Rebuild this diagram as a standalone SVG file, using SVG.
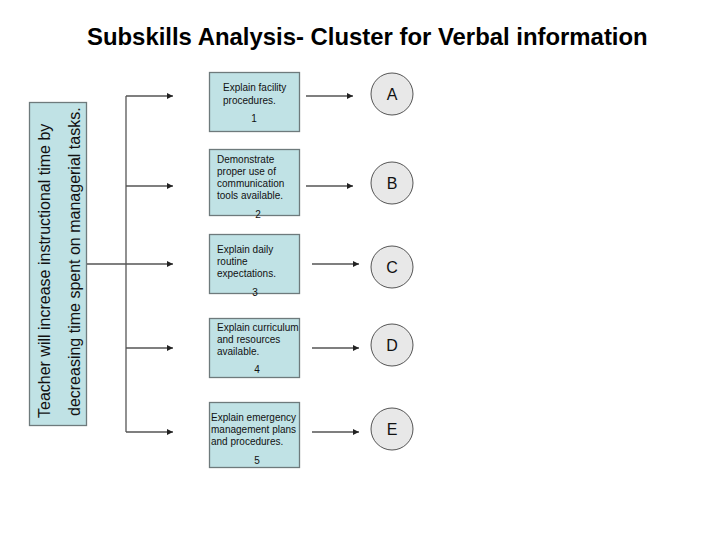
<svg xmlns="http://www.w3.org/2000/svg" width="720" height="540" viewBox="0 0 720 540">
<style>
  .box { fill: #c0e2e5; stroke: #6e7a7c; stroke-width: 1.3; }
  .circ { fill: #e8e8e8; stroke: #555; stroke-width: 1; }
  .t { font-family: "Liberation Sans", Arial, sans-serif; font-size: 10px; fill: #111; }
  .big { font-family: "Liberation Sans", Arial, sans-serif; font-size: 16px; fill: #111; }
  .title { font-family: "Liberation Sans", Arial, sans-serif; font-size: 23.9px; font-weight: bold; fill: #000; }
  .ln { stroke: #555; stroke-width: 1.3; fill: none; }
</style>
<defs>
  <marker id="ah" viewBox="0 0 8 8" refX="8" refY="4" markerWidth="6" markerHeight="6" markerUnits="userSpaceOnUse" orient="auto">
    <path d="M0,0 L8,4 L0,8 z" fill="#222"/>
  </marker>
</defs>
<rect width="720" height="540" fill="#ffffff"/>
<text class="title" x="87" y="45">Subskills Analysis- Cluster for Verbal information</text>

<g id="goal">
  <rect class="box" x="29.5" y="102.5" width="57" height="323"/>
  <text class="big" transform="translate(50,418) rotate(-90)">Teacher will increase instructional time by</text>
  <text class="big" transform="translate(80,416) rotate(-90)">decreasing time spent on managerial tasks.</text>
</g>

<g id="connectors">
  <line class="ln" x1="87" y1="264" x2="173" y2="264" marker-end="url(#ah)"/>
  <line class="ln" x1="126" y1="96" x2="126" y2="432"/>
  <line class="ln" x1="126" y1="96" x2="173" y2="96" marker-end="url(#ah)"/>
  <line class="ln" x1="126" y1="186" x2="173" y2="186" marker-end="url(#ah)"/>
  <line class="ln" x1="126" y1="348" x2="173" y2="348" marker-end="url(#ah)"/>
  <line class="ln" x1="126" y1="432" x2="173" y2="432" marker-end="url(#ah)"/>
  <line class="ln" x1="306" y1="96" x2="353" y2="96" marker-end="url(#ah)"/>
  <line class="ln" x1="306" y1="186" x2="353" y2="186" marker-end="url(#ah)"/>
  <line class="ln" x1="312" y1="264" x2="359" y2="264" marker-end="url(#ah)"/>
  <line class="ln" x1="312" y1="348" x2="359" y2="348" marker-end="url(#ah)"/>
  <line class="ln" x1="312" y1="432" x2="359" y2="432" marker-end="url(#ah)"/>
</g>

<g id="box1">
  <rect class="box" x="209.5" y="72.5" width="90" height="59"/>
  <text class="t" x="223" y="91">Explain facility</text>
  <text class="t" x="223" y="104">procedures.</text>
  <text class="t" x="254" y="122" text-anchor="middle">1</text>
</g>
<g id="box2">
  <rect class="box" x="209.5" y="149.5" width="90" height="66"/>
  <text class="t" x="217" y="163">Demonstrate</text>
  <text class="t" x="217" y="175">proper use of</text>
  <text class="t" x="217" y="187">communication</text>
  <text class="t" x="217" y="199">tools available.</text>
  <text class="t" x="258" y="218" text-anchor="middle">2</text>
</g>
<g id="box3">
  <rect class="box" x="209.5" y="234.5" width="90" height="59"/>
  <text class="t" x="217" y="253">Explain daily</text>
  <text class="t" x="217" y="265">routine</text>
  <text class="t" x="217" y="277">expectations.</text>
  <text class="t" x="255" y="296" text-anchor="middle">3</text>
</g>
<g id="box4">
  <rect class="box" x="209.5" y="318.5" width="90" height="59"/>
  <text class="t" x="217" y="331">Explain curriculum</text>
  <text class="t" x="217" y="343">and resources</text>
  <text class="t" x="217" y="355">available.</text>
  <text class="t" x="257" y="373" text-anchor="middle">4</text>
</g>
<g id="box5">
  <rect class="box" x="209.5" y="402.5" width="90" height="65"/>
  <text class="t" x="211" y="421">Explain emergency</text>
  <text class="t" x="211" y="433">management plans</text>
  <text class="t" x="211" y="445">and procedures.</text>
  <text class="t" x="257" y="464" text-anchor="middle">5</text>
</g>

<g id="A">
  <circle class="circ" cx="392" cy="94" r="21"/>
  <text class="big" x="392" y="100" text-anchor="middle">A</text>
</g>
<g id="B">
  <circle class="circ" cx="392" cy="183" r="21"/>
  <text class="big" x="392" y="189" text-anchor="middle">B</text>
</g>
<g id="C">
  <circle class="circ" cx="392" cy="267" r="21"/>
  <text class="big" x="392" y="273" text-anchor="middle">C</text>
</g>
<g id="D">
  <circle class="circ" cx="392" cy="345" r="21"/>
  <text class="big" x="392" y="351" text-anchor="middle">D</text>
</g>
<g id="E">
  <circle class="circ" cx="392" cy="429" r="21"/>
  <text class="big" x="392" y="435" text-anchor="middle">E</text>
</g>
</svg>
